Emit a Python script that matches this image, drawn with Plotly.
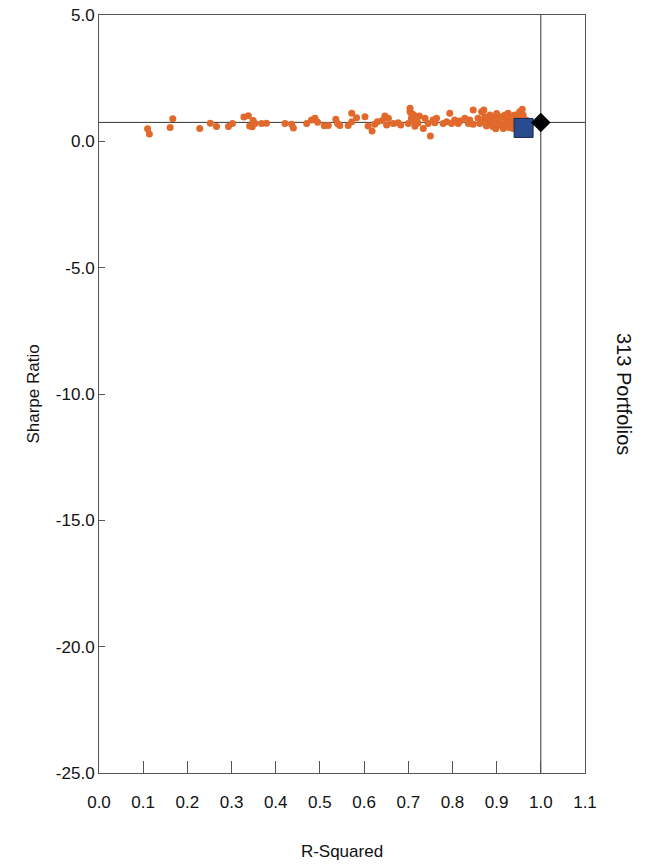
import plotly.graph_objects as go

# Portfolio points (R-Squared, Sharpe Ratio)
r_squared = [
    0.110, 0.114, 0.161, 0.167, 0.228, 0.252, 0.266, 0.293, 0.302, 0.328,
    0.338, 0.349, 0.341, 0.347, 0.353, 0.368, 0.379,
    0.421, 0.436, 0.440, 0.470, 0.481, 0.489, 0.495, 0.510, 0.519, 0.536,
    0.540, 0.545, 0.564, 0.572, 0.572, 0.583, 0.602, 0.609, 0.618, 0.624,
    0.630, 0.641, 0.647, 0.651, 0.655, 0.666, 0.677, 0.683, 0.700, 0.704,
    0.707, 0.704,
    0.707, 0.711, 0.715, 0.719, 0.722, 0.734, 0.738, 0.745, 0.750, 0.756,
    0.760, 0.764, 0.779, 0.787, 0.794, 0.798, 0.805, 0.813, 0.817, 0.828,
    0.836, 0.839, 0.847, 0.847, 0.858, 0.862, 0.866, 0.870, 0.871, 0.873,
    0.877, 0.881, 0.885, 0.888, 0.892, 0.896, 0.900, 0.904, 0.907, 0.911,
    0.915, 0.919, 0.922, 0.926, 0.930, 0.934, 0.937, 0.941, 0.952, 0.958,
    0.960, 0.967, 0.979,
    0.895, 0.905, 0.918, 0.925, 0.933, 0.940, 0.945, 0.948, 0.890, 0.912,
    0.928, 0.943, 0.875, 0.898, 0.920, 0.935, 0.725, 0.715, 0.712,
]
sharpe = [
    0.50, 0.29, 0.55, 0.89, 0.51, 0.72, 0.59, 0.59, 0.71, 0.96,
    1.01, 0.82, 0.61, 0.58, 0.71, 0.71, 0.72,
    0.71, 0.68, 0.53, 0.71, 0.84, 0.91, 0.76, 0.62, 0.63, 0.87,
    0.71, 0.63, 0.63, 0.78, 1.11, 0.93, 0.97, 0.61, 0.41, 0.68,
    0.78, 0.82, 1.00, 0.65, 0.91, 0.71, 0.74, 0.65, 0.71, 1.17,
    0.91, 1.31,
    1.11, 0.91, 0.71, 0.84, 0.73, 0.51, 0.91, 0.71, 0.21, 0.84,
    0.74, 0.91, 0.71, 0.78, 1.11, 0.71, 0.84, 0.71, 0.80, 0.91,
    0.71, 0.84, 0.68, 1.24, 0.91, 0.71, 1.17, 0.78, 1.24, 0.97,
    0.61, 0.84, 1.04, 0.71, 0.58, 0.91, 1.10, 0.78, 0.65, 0.97,
    0.51, 1.04, 0.78, 1.11, 0.65, 0.91, 0.51, 1.04, 1.17, 1.27,
    1.04, 0.84, 0.71,
    0.68, 0.88, 0.62, 0.85, 0.72, 0.80, 0.60, 0.92, 0.82, 0.70,
    0.55, 0.68, 0.88, 0.50, 0.95, 1.00, 1.00, 0.60, 1.05,
]

# Highlighted points
square_x, square_y = [0.961], [0.53]
diamond_x, diamond_y = [1.0], [0.75]
ref_sharpe = 0.75
ref_r2 = 1.0

x_ticks = [0.0, 0.1, 0.2, 0.3, 0.4, 0.5, 0.6, 0.7, 0.8, 0.9, 1.0, 1.1]
x_tick_labels = ["0.0", "0.1", "0.2", "0.3", "0.4", "0.5", "0.6", "0.7",
                 "0.8", "0.9", "1.0", "1.1"]
y_ticks = [-25, -20, -15, -10, -5, 0, 5]
y_tick_labels = ["-25.0", "-20.0", "-15.0", "-10.0", "-5.0", "0.0", "5.0"]

FONT = "Liberation Sans, Arial, sans-serif"
AXIS_COLOR = "#555555"
TEXT_COLOR = "#111111"

fig = go.Figure()

fig.add_trace(go.Scatter(
    x=r_squared, y=sharpe, mode="markers",
    marker=dict(color="#E0692B", size=7, line=dict(width=0)),
    showlegend=False, hoverinfo="x+y",
))
fig.add_trace(go.Scatter(
    x=square_x, y=square_y, mode="markers",
    marker=dict(symbol="square", color="#2A4A8E", size=19,
                line=dict(color="#1B2A4F", width=1)),
    showlegend=False,
))
fig.add_trace(go.Scatter(
    x=diamond_x, y=diamond_y, mode="markers",
    marker=dict(symbol="diamond", color="#000000", size=15,
                line=dict(width=0)),
    showlegend=False,
))

fig.add_shape(type="line", xref="paper", yref="y", x0=0, x1=1,
              y0=ref_sharpe, y1=ref_sharpe,
              line=dict(color="#333333", width=1), layer="below")
fig.add_shape(type="line", xref="x", yref="paper", x0=ref_r2, x1=ref_r2,
              y0=0, y1=1, line=dict(color="#333333", width=1), layer="below")

fig.add_annotation(
    text="313 Portfolios", textangle=90, showarrow=False,
    xref="paper", yref="paper", x=1.0, y=0.5, xanchor="left", yanchor="middle",
    xshift=26, font=dict(family=FONT, size=20, color=TEXT_COLOR),
)

fig.update_xaxes(
    range=[0, 1.1], tickvals=x_ticks, ticktext=x_tick_labels,
    ticks="inside", ticklen=12, tickcolor=AXIS_COLOR,
    showline=True, linecolor=AXIS_COLOR, linewidth=1, mirror=True,
    showgrid=False, zeroline=False, automargin=False,
    ticklabeloverflow="allow",
    tickfont=dict(family=FONT, size=17, color=TEXT_COLOR),
    ticklabelstandoff=14,
    title=dict(text="R-Squared", font=dict(family=FONT, size=17, color=TEXT_COLOR),
               standoff=33),
)
fig.update_yaxes(
    range=[-25, 5], tickvals=y_ticks, ticktext=y_tick_labels,
    ticks="inside", ticklen=6, tickcolor=AXIS_COLOR,
    showline=True, linecolor=AXIS_COLOR, linewidth=1, mirror=True,
    showgrid=False, zeroline=False, automargin=False,
    ticklabeloverflow="allow",
    tickfont=dict(family=FONT, size=17, color=TEXT_COLOR),
    title=dict(text="Sharpe Ratio", font=dict(family=FONT, size=17, color=TEXT_COLOR),
               standoff=11),
)

fig.update_layout(
    width=650, height=864,
    margin=dict(l=99, r=65, t=15, b=91),
    paper_bgcolor="white", plot_bgcolor="white",
    font=dict(family=FONT),
)

# Remove the browser's default 8px body margin so the figure fills the window.
fig.write_html(
    "out.html",
    config={"displayModeBar": False},
    post_script="document.body.style.margin='0';document.body.style.overflow='hidden';",
)
